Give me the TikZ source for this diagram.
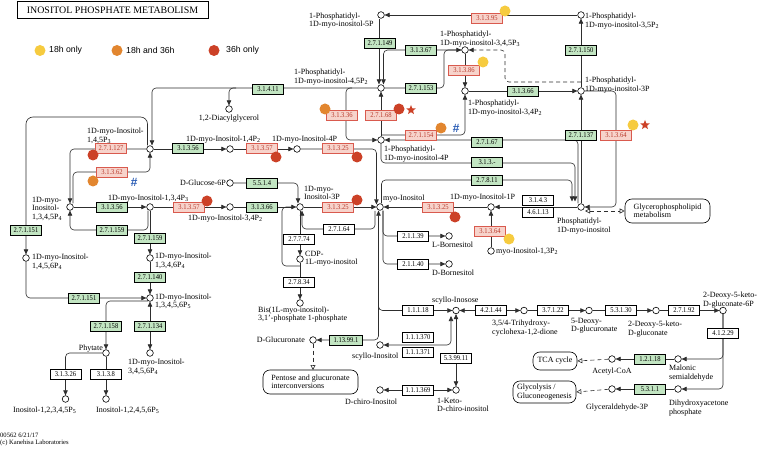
\documentclass[tikz,border=0pt]{standalone}
\usepackage{fontspec}
\setmainfont{Liberation Serif}
\newfontfamily\kgsans{Liberation Sans}
\newfontfamily\kgenzfam{Liberation Serif}[FakeStretch=0.9]
\usetikzlibrary{arrows.meta,shapes.geometric,calc,backgrounds}
\definecolor{kgreen}{HTML}{C2E5C2}
\definecolor{kpink}{HTML}{F7D3CB}
\definecolor{kred}{HTML}{D95A4E}
\definecolor{kredtxt}{HTML}{B8392B}
\definecolor{kdotY}{HTML}{F6CB3F}
\definecolor{kdotO}{HTML}{E2862F}
\definecolor{kdotR}{HTML}{CC4127}
\definecolor{kblue}{HTML}{2B5DB5}
\definecolor{kline}{HTML}{2E2E2E}
\newcommand{\kP}[1]{P\textsubscript{#1}}
\newcommand{\kglbl}{\fontsize{8}{8.3}\selectfont}
\newcommand{\kgenz}{\kgenzfam\fontsize{7.3}{8}\selectfont}
\begin{document}
\begin{tikzpicture}[x=1pt,y=-1pt,
  >={Triangle[length=5pt,width=4.4pt]},
  cpd/.style={circle,draw=black,fill=white,line width=0.6pt,inner sep=0pt,minimum size=6.6pt},
  enz/.style={draw=black,line width=0.5pt,minimum width=31pt,minimum height=10pt,inner sep=0pt,font=\kgenz},
  ge/.style={enz,fill=kgreen},
  re/.style={enz,fill=kpink,draw=kred,text=kredtxt},
  we/.style={enz,fill=white},
  lbl/.style={font=\kglbl,inner sep=0pt,align=left},
  ln/.style={draw=kline,line width=0.6pt,rounded corners=4pt},
  dsh/.style={ln,dash pattern=on 4pt off 3pt},
  otip/.style={-{Triangle[open,length=5pt,width=5pt]}},
  mapbox/.style={draw=black,line width=0.6pt,rounded corners=7pt,font=\kglbl,align=left,inner sep=2pt},
  sdot/.style={circle,inner sep=0pt,minimum size=11pt},
  kstar/.style={star,star points=5,star point ratio=2.3,fill=kdotR,inner sep=0pt,minimum size=10pt},
  khash/.style={font=\kgsans\bfseries\itshape\fontsize{12}{12}\selectfont,text=kblue,inner sep=0pt},
  leg/.style={font=\kgsans\fontsize{8.7}{9}\selectfont,anchor=west,inner sep=0pt}
]
\useasboundingbox (0,0) rectangle (760,454);

% ---------- title, legend, footer
\node[draw=black,line width=1pt,minimum width=191pt,minimum height=17pt,inner sep=0pt,font=\fontsize{9.9}{10}\selectfont] (title) at (112.5,10.5) {INOSITOL PHOSPHATE METABOLISM};
\node[sdot,fill=kdotY] (lgY) at (40,50.5) {};
\node[leg] (lgYt) at (49,50.5) {18h only};
\node[sdot,fill=kdotO] (lgO) at (117,50.5) {};
\node[leg] (lgOt) at (126,50.5) {18h and 36h};
\node[sdot,fill=kdotR] (lgR) at (214,50.5) {};
\node[leg] (lgRt) at (226,50.5) {36h only};
\node[lbl,font=\fontsize{6.6}{7}\selectfont,anchor=north west] (foot) at (0,433) {00562 6/21/17\\(c) Kanehisa Laboratories};

% ---------- compounds
\node[cpd] (c5P) at (381,15) {};
\node[cpd] (c35P2) at (581,15) {};
\node[cpd] (c345P3) at (465,50) {};
\node[cpd] (c45P2) at (381,88) {};
\node[cpd] (c34P2) at (465,91) {};
\node[cpd] (c3P) at (581,91) {};
\node[cpd] (cDAG) at (229,109) {};
\node[cpd] (c4P) at (381,140) {};
\node[cpd] (c145P3) at (150,149) {};
\node[cpd] (c14P2) at (230,149) {};
\node[cpd] (c4Pi) at (297,149) {};
\node[cpd] (cG6P) at (230,183) {};
\node[cpd] (c1345P4) at (70,207) {};
\node[cpd] (c134P3) at (150,207) {};
\node[cpd] (c34P2i) at (230,207) {};
\node[cpd] (c3Pi) at (300,207) {};
\node[cpd] (cmyo) at (380,207) {};
\node[cpd] (c1P) at (491,207) {};
\node[cpd] (cPI) at (581,207) {};
\node[cpd] (cLB) at (449,236) {};
\node[cpd] (cDB) at (449,264) {};
\node[cpd] (c13P2) at (491,251) {};
\node[cpd] (cCDP) at (300,259) {};
\node[cpd] (c1456P4) at (26,258) {};
\node[cpd] (c1346P4) at (150,258) {};
\node[cpd] (c13456P5) at (150,298) {};
\node[cpd] (cBis) at (300,303) {};
\node[cpd] (cscyllo) at (456,310.5) {};
\node[cpd] (cTri) at (524,310.5) {};
\node[cpd] (c5D) at (589,310.5) {};
\node[cpd] (c2D) at (656,310.5) {};
\node[cpd] (c6P) at (723,310.5) {};
\node[cpd] (cGlcA) at (313,340) {};
\node[cpd] (cscylloIns) at (380,345) {};
\node[cpd] (cMal) at (678,359) {};
\node[cpd] (cAcCoA) at (612,359) {};
\node[cpd] (cPhyt) at (106,353) {};
\node[cpd] (c3456P4) at (150,353) {};
\node[cpd] (cDchiro) at (380,390) {};
\node[cpd] (cKeto) at (456,390) {};
\node[cpd] (cDHAP) at (678,389) {};
\node[cpd] (cGAP) at (612,389) {};
\node[cpd] (cI12345) at (65.5,399) {};
\node[cpd] (cI12456) at (106,399) {};

% ---------- enzymes
\node[re] (e31395) at (487,18) {3.1.3.95};
\node[ge] (e27149) at (380,43) {2.7.1.149};
\node[ge] (e31367) at (421,50) {3.1.3.67};
\node[ge] (e27150) at (581,50) {2.7.1.150};
\node[re] (e31386) at (464,70) {3.1.3.86};
\node[ge] (e31411) at (268,89) {3.1.4.11};
\node[ge] (e27153) at (421,88) {2.7.1.153};
\node[ge] (e31366a) at (523,91) {3.1.3.66};
\node[re] (e31336) at (342,115) {3.1.3.36};
\node[re] (e27168) at (381,115) {2.7.1.68};
\node[re] (e27154) at (421,135) {2.7.1.154};
\node[ge] (e27137) at (581,135) {2.7.1.137};
\node[re] (e31364a) at (616,135) {3.1.3.64};
\node[ge] (e27167) at (487,142) {2.7.1.67};
\node[ge] (e313x) at (487,162) {3.1.3.-};
\node[ge] (e27811) at (487,180) {2.7.8.11};
\node[re] (e27127) at (111,148) {2.7.1.127};
\node[ge] (e31356a) at (188,148) {3.1.3.56};
\node[re] (e31357a) at (262,148) {3.1.3.57};
\node[re] (e31325a) at (338,148) {3.1.3.25};
\node[re] (e31362) at (112,172) {3.1.3.62};
\node[ge] (e5514) at (262,183) {5.5.1.4};
\node[we] (e3143) at (538,200) {3.1.4.3};
\node[we] (e46113) at (538,212) {4.6.1.13};
\node[ge] (e31356b) at (112,207) {3.1.3.56};
\node[re] (e31357b) at (189,207) {3.1.3.57};
\node[ge] (e31366b) at (262,207) {3.1.3.66};
\node[re] (e31325b) at (338,207) {3.1.3.25};
\node[re] (e31325c) at (438,207) {3.1.3.25};
\node[we] (e27164) at (339,229) {2.7.1.64};
\node[ge] (e27159a) at (112,230) {2.7.1.159};
\node[ge] (e27159b) at (150,238) {2.7.1.159};
\node[ge] (e27151a) at (26,230) {2.7.1.151};
\node[re] (e31364b) at (490,231) {3.1.3.64};
\node[we] (e21139) at (413,236) {2.1.1.39};
\node[we] (e27774) at (299,239) {2.7.7.74};
\node[we] (e21140) at (413,264) {2.1.1.40};
\node[ge] (e27140) at (150,277) {2.7.1.140};
\node[we] (e27834) at (299,282) {2.7.8.34};
\node[ge] (e27151b) at (84,298) {2.7.1.151};
\node[we] (e11118) at (418,310.5) {1.1.1.18};
\node[we] (e42144) at (491,310.5) {4.2.1.44};
\node[we] (e37122) at (553,310.5) {3.7.1.22};
\node[we] (e53130) at (621,310.5) {5.3.1.30};
\node[we] (e27192) at (684,310.5) {2.7.1.92};
\node[ge] (e27158) at (106,326) {2.7.1.158};
\node[ge] (e27134) at (150,326) {2.7.1.134};
\node[we] (e41229) at (723,333) {4.1.2.29};
\node[we] (e111370) at (418,337) {1.1.1.370};
\node[ge,minimum width=33pt] (e113991) at (346,340) {1.13.99.1};
\node[we] (e111371) at (418,352) {1.1.1.371};
\node[we] (e539911) at (456,358) {5.3.99.11};
\node[ge] (e12118) at (650,359) {1.2.1.18};
\node[we] (e31326) at (65.5,374) {3.1.3.26};
\node[we] (e3138) at (106,374) {3.1.3.8};
\node[we] (e111369) at (418,390) {1.1.1.369};
\node[ge] (e5311) at (650,389) {5.3.1.1};

% ---------- map links
\node[mapbox,minimum width=85pt,minimum height=24pt] (glyc) at (667.5,211) {Glycerophospholipid\\metabolism};
\node[mapbox,minimum width=44pt,minimum height=18pt,align=center] (tca) at (555,361) {TCA cycle};
\node[mapbox,minimum width=63pt,minimum height=22pt] (glyco) at (544.5,392) {Glycolysis /\\Gluconeogenesis};
\node[mapbox,minimum width=95pt,minimum height=24pt] (pent) at (310.5,382) {Pentose and glucuronate\\interconversions};

% ---------- compound labels
\node[lbl,anchor=north west] (t5P) at (309,12.5) {1-Phosphatidyl-\\1D-myo-inositol-5P};
\node[lbl,anchor=north west] (t35P2) at (585,13) {1-Phosphatidyl-\\1D-myo-inositol-3,5\kP{2}};
\node[lbl,anchor=north west] (t345P3) at (440,31) {1-Phosphatidyl-\\1D-myo-inositol-3,4,5\kP{3}};
\node[lbl,anchor=north west] (t45P2) at (294,69) {1-Phosphatidyl-\\1D-myo-inositol-4,5\kP{2}};
\node[lbl,anchor=north west] (t4P) at (384,146) {1-Phosphatidyl-\\1D-myo-inositol-4P};
\node[lbl,anchor=north west] (t34P2) at (468,100) {1-Phosphatidyl-\\1D-myo-inositol-3,4\kP{2}};
\node[lbl,anchor=north west] (t3P) at (585,77) {1-Phosphatidyl-\\1D-myo-inositol-3P};
\node[lbl,anchor=north west] (tPI) at (557,218) {Phosphatidyl-\\1D-myo-inositol};
\node[lbl,anchor=base] (tDAG) at (229,120.6) {1,2-Diacylglycerol};
\node[lbl,anchor=north west] (t145P3) at (87,128) {1D-myo-Inositol-\\1,4,5\kP{3}};
\node[lbl,anchor=base west] (t14P2) at (186,141.6) {1D-myo-Inositol-1,4\kP{2}};
\node[lbl,anchor=base west] (t4Pi) at (272,141.6) {1D-myo-Inositol-4P};
\node[lbl,anchor=north west] (t1345P4) at (32,197) {1D-myo-\\Inositol-\\1,3,4,5\kP{4}};
\node[lbl,anchor=base west] (t134P3) at (108,200.6) {1D-myo-Inositol-1,3,4\kP{3}};
\node[lbl,anchor=base west] (t34P2i) at (188,220.6) {1D-myo-Inositol-3,4\kP{2}};
\node[lbl,anchor=base east] (tG6P) at (226,185.6) {D-Glucose-6P};
\node[lbl,anchor=north west] (t3Pi) at (304,186) {1D-myo-\\Inositol-3P};
\node[lbl,anchor=base west] (tmyo) at (383,200.6) {myo-Inositol};
\node[lbl,anchor=base west] (t1P) at (450,199.6) {1D-myo-Inositol-1P};
\node[lbl,anchor=base west] (tLB) at (432,247.6) {L-Bornesitol};
\node[lbl,anchor=base west] (tDB) at (432,275.6) {D-Bornesitol};
\node[lbl,anchor=base west] (t13P2) at (496,253.6) {myo-Inositol-1,3\kP{2}};
\node[lbl,anchor=north west] (tCDP) at (305,251) {CDP-\\1L-myo-inositol};
\node[lbl,anchor=north west] (tBis) at (258,306.5) {Bis(1L-myo-inositol)-\\3,1'-phosphate 1-phosphate};
\node[lbl,anchor=north west] (t1456P4) at (32,254) {1D-myo-Inositol-\\1,4,5,6\kP{4}};
\node[lbl,anchor=north west] (t1346P4) at (155,253) {1D-myo-Inositol-\\1,3,4,6\kP{4}};
\node[lbl,anchor=north west] (t13456P5) at (155,293.5) {1D-myo-Inositol-\\1,3,4,5,6\kP{5}};
\node[lbl,anchor=base east] (tPhyt) at (103,350.6) {Phytate};
\node[lbl,anchor=north west] (t3456P4) at (128,359) {1D-myo-Inositol-\\3,4,5,6\kP{4}};
\node[lbl,anchor=base west] (tI12345) at (13,412.6) {Inositol-1,2,3,4,5\kP{5}};
\node[lbl,anchor=base west] (tI12456) at (96,412.6) {Inositol-1,2,4,5,6\kP{5}};
\node[lbl,anchor=base east] (tGlcA) at (305,342.6) {D-Glucuronate};
\node[lbl,anchor=base west] (tscyllo) at (432,302.6) {scyllo-Inosose};
\node[lbl,anchor=base west] (tscylloIns) at (352,358.6) {scyllo-Inositol};
\node[lbl,anchor=base west] (tDchiro) at (345,404.6) {D-chiro-Inositol};
\node[lbl,anchor=north west] (tKeto) at (437,398) {1-Keto-\\D-chiro-inositol};
\node[lbl,anchor=north west] (tTri) at (492,320) {3,5/4-Trihydroxy-\\cyclohexa-1,2-dione};
\node[lbl,anchor=north west] (t5D) at (571,318) {5-Deoxy-\\D-glucuronate};
\node[lbl,anchor=north west] (t2D) at (628,321) {2-Deoxy-5-keto-\\D-gluconate};
\node[lbl,anchor=north west] (t6P) at (703,292) {2-Deoxy-5-keto-\\D-gluconate-6P};
\node[lbl,anchor=north west] (tMal) at (669,365) {Malonic\\semialdehyde};
\node[lbl,anchor=base] (tAcCoA) at (612,373.6) {Acetyl-CoA};
\node[lbl,anchor=north west] (tDHAP) at (669,400) {Dihydroxyacetone\\phosphate};
\node[lbl,anchor=base west] (tGAP) at (586,409.6) {Glyceraldehyde-3P};

% ---------- markers
\node[sdot,fill=kdotY] (m1) at (505,11) {};
\node[sdot,fill=kdotY] (m2) at (483,62) {};
\node[sdot,fill=kdotY] (m3) at (633,125) {};
\node[sdot,fill=kdotY] (m4) at (509,239) {};
\node[sdot,fill=kdotO] (m5) at (325,109) {};
\node[sdot,fill=kdotO] (m6) at (441,128) {};
\node[sdot,fill=kdotO] (m7) at (93,181) {};
\node[sdot,fill=kdotR] (m8) at (399,109) {};
\node[sdot,fill=kdotR] (m9) at (93,155) {};
\node[sdot,fill=kdotR] (m10) at (276,157) {};
\node[sdot,fill=kdotR] (m11) at (357,157) {};
\node[sdot,fill=kdotR] (m12) at (207,201) {};
\node[sdot,fill=kdotR] (m13) at (357,200) {};
\node[sdot,fill=kdotR] (m14) at (455,217) {};
\node[kstar] (s1) at (411,110) {};
\node[kstar] (s2) at (645,125) {};
\node[khash] (h1) at (456,128) {\#};
\node[khash] (h2) at (134,182) {\#};

% ---------- connectors
\begin{scope}[on background layer]
\fill[white] (0,0) rectangle (760,454);
% top block
\draw[ln,->] (c35P2) -- (c5P);
\draw[ln,->] ($(c5P.south)+(-2,0)$) -- ($(c45P2.north)+(-2,0)$);
\draw[ln,->] (c345P3.west) -| ($(c45P2.north)+(2.5,0)$);
\draw[ln,->] (c45P2.east) -- (444,88) -- (444,50) -- (c345P3.west);
\draw[ln,->] (c345P3) -- (c34P2);
\draw[dsh,->] (581,82) -- (505,82) -- (505,50) -- (c345P3.east);
\draw[ln,->] (c34P2) -- (c3P);
\draw[ln,->] (c3P) -- (c35P2);
\draw[ln,->] (c45P2.west) -| ($(c145P3.north)+(2,0)$);
\draw[ln,->] (236,88) -| (cDAG.north);
\draw[ln,->] (352,88) -| (346,140) -- (c4P.west);
\draw[ln,->] (c4P) -- (c45P2);
\draw[ln,->] (381,135) -| (c34P2.south);
\draw[ln,->] ($(cPI.north)+(-3,0)$) |- (c4P.east);
\draw[ln,->] (c4P.south) |- (575,163) -- (575,201.5);
\draw[ln,->] ($(cmyo.north)+(1.5,0)$) |- (572,180) -- (572,201.5);
\draw[ln,->] (cPI) -- (c3P);
\draw[ln,->] (c3P.east) -- (616,91) -- (616,207) -- (cPI.east);
\draw[dsh,{Triangle[open,length=5pt,width=5pt]}-{Triangle[open,length=5pt,width=5pt]}] (585,211) -- (glyc.west);
% middle row
\draw[ln,->] (cPI) -- (c1P);
\draw[ln,->] (c1P) -- (cmyo);
\draw[ln,->] (c13P2) -- (c1P);
\draw[ln,->] ($(cmyo.south)+(3,0)$) |- (cLB.west);
\draw[ln,->] ($(cmyo.south)+(3,0)$) |- (cDB.west);
\draw[ln,<->] ($(cmyo.south)+(-1.5,0)$) |- (cscyllo.west);
\draw[ln,->] (378.5,300) |- (cGlcA.east);
\draw[dsh,otip] (cGlcA.south) -- (313,370);
\draw[ln,<->] (451,316) |- (cscylloIns.east);
\draw[ln,<->] (cscyllo) -- (cKeto);
\draw[ln,<->] (cDchiro) -- (cKeto);
\draw[ln,<->] (cscyllo) -- (cTri);
\draw[ln,->] (cTri) -- (c5D);
\draw[ln,->] (c5D) -- (c2D);
\draw[ln,->] (c2D) -- (c6P);
\draw[ln,->] (c6P.south) |- (cMal.east);
\draw[ln,->] (c6P.south) |- (cDHAP.east);
\draw[ln,->] (cMal) -- (cAcCoA);
\draw[ln,->] (cDHAP) -- (cGAP);
\draw[dsh,otip] (cAcCoA) -- (tca.east);
\draw[dsh,otip] (cGAP) -- (glyco.east);
% left block
\draw[ln,->,rounded corners=7pt] ($(c145P3.north)+(-2.5,0)$) -- (147.5,117) -- (26,117) -- (c1456P4.north);
\draw[ln,->] (c1456P4.south) |- (c13456P5.west);
\draw[ln,->] (c145P3.west) -| (c1345P4.north);
\draw[ln,->] ($(c1345P4.north)+(3,0)$) |- (150,172) -- (c145P3.south);
\draw[ln,->] (c145P3) -- (c14P2);
\draw[ln,->] (c14P2) -- (c4Pi);
\draw[ln,->] (c4Pi.east) -| ($(cmyo.north west)+(-1,0)$);
\draw[ln,->] (c1345P4) -- (c134P3);
\draw[ln,->] ($(c134P3.south)+(-2,0)$) |- (70,230) -- (c1345P4.south);
\draw[ln,->] (c134P3) -- (c1346P4);
\draw[ln,->] (c1346P4) -- (c13456P5);
\draw[ln,->] (148,301) -| (cPhyt.north);
\draw[ln,<->] (c13456P5) -- (c3456P4);
\draw[ln,->] (cPhyt.west) -| (cI12345.north);
\draw[ln,->] (cPhyt) -- (cI12456);
\draw[ln,->] (c134P3) -- (c34P2i);
\draw[ln,->] (c34P2i) -- (c3Pi);
\draw[ln,->] (c3Pi) -- (cmyo);
\draw[ln,->] (cG6P.east) -| ($(c3Pi.north)+(-2,0)$);
\draw[ln,->] (375,211) |- (302,229) -- ($(c3Pi.south)+(2,0)$);
\draw[ln,->] (c3Pi) -- (cCDP);
\draw[ln] (300,266) -- (282,266) -- (282,207) -- (292,207);
\draw[ln,->] (cCDP) -- (cBis);
\end{scope}
\end{tikzpicture}
\end{document}
